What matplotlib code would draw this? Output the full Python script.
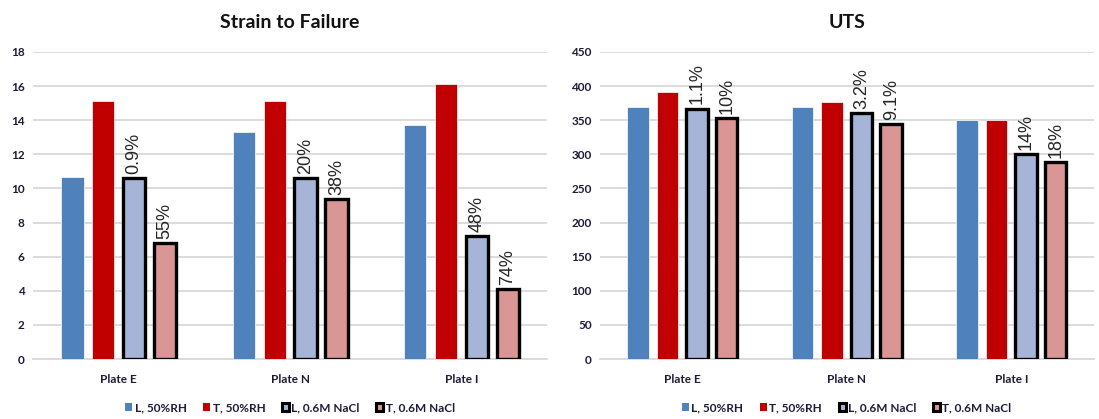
import numpy as np
import matplotlib
matplotlib.use('Agg')
import matplotlib.pyplot as plt
from matplotlib.patches import Patch

plates = ['Plate E', 'Plate N', 'Plate I']
series = ['L, 50%RH', 'T, 50%RH', 'L, 0.6M NaCl', 'T, 0.6M NaCl']

# Strain to failure (%)
strain_L_rh = [10.7, 13.3, 13.7]
strain_T_rh = [15.1, 15.1, 16.1]
strain_L_nacl = [10.6, 10.6, 7.2]
strain_T_nacl = [6.8, 9.4, 4.1]
strain_L_drop = ['0.9%', '20%', '48%']
strain_T_drop = ['55%', '38%', '74%']

# Ultimate tensile strength (MPa)
uts_L_rh = [370, 370, 350]
uts_T_rh = [392, 376, 350]
uts_L_nacl = [367, 361, 300]
uts_T_nacl = [353, 344, 289]
uts_L_drop = ['1.1%', '3.2%', '14%']
uts_T_drop = ['10%', '9.1%', '18%']

colors = ['#4F81BD', '#C00000', '#A6B5D7', '#DA9694']
tick_col = '#1c1c3a'

fig = plt.figure(figsize=(10.99, 4.19), dpi=100)
ax1 = fig.add_axes([0.030, 0.143, 0.468, 0.733])
ax2 = fig.add_axes([0.546, 0.143, 0.449, 0.733])


def draw(ax, vals, drops, ymax, ystep, title):
    x = np.arange(len(plates))
    w = 0.13
    step = 0.18
    offs = [-1.5 * step, -0.5 * step, 0.5 * step, 1.5 * step]
    for i, v in enumerate(vals):
        if i < 2:
            ax.bar(x + offs[i], v, w, color=colors[i], edgecolor='white',
                   linewidth=0.5, zorder=3)
        else:
            bars = ax.bar(x + offs[i], v, w, color=colors[i], edgecolor='black',
                          linewidth=2.4, zorder=3)
            for b, lab in zip(bars, drops[i - 2]):
                ax.annotate(lab, (b.get_x() + b.get_width() / 2, b.get_height()),
                            xytext=(0, 3), textcoords='offset points',
                            rotation=90, ha='center', va='bottom',
                            fontsize=13, color='#262626',
                            family='Liberation Sans', zorder=4)
    ax.set_xlim(-0.5, len(plates) - 0.5)
    ax.set_ylim(0, ymax)
    ax.set_yticks(np.arange(0, ymax + 1, ystep))
    ax.set_xticks(x)
    ax.set_xticklabels(plates)
    ax.grid(axis='y', color='#D9D9D9', linewidth=1.3, zorder=0)
    for s in ['top', 'right', 'left']:
        ax.spines[s].set_visible(False)
    ax.spines['bottom'].set_color('#D9D9D9')
    ax.spines['bottom'].set_linewidth(1.3)
    ax.tick_params(length=0, labelsize=8.5, labelcolor=tick_col, pad=6)
    for t in ax.get_xticklabels() + ax.get_yticklabels():
        t.set_fontweight('bold')
        t.set_family('Lato')
    ax.tick_params(axis='x', pad=11)
    ax.set_title(title, fontsize=14, fontweight='bold', family='Lato',
                 color='#111111', pad=17)
    handles = [Patch(facecolor=colors[0], edgecolor='none'),
               Patch(facecolor=colors[1], edgecolor='none'),
               Patch(facecolor=colors[2], edgecolor='black', linewidth=2.2),
               Patch(facecolor=colors[3], edgecolor='black', linewidth=2.2)]
    ax.legend(handles, series, loc='upper center', bbox_to_anchor=(0.5, -0.105),
              ncol=4, frameon=False, handlelength=0.6, handleheight=0.6,
              handletextpad=0.2, columnspacing=1.4,
              prop={'family': 'Lato', 'weight': 'bold', 'size': 8.5})
    for t in ax.get_legend().get_texts():
        t.set_color(tick_col)


draw(ax1, [strain_L_rh, strain_T_rh, strain_L_nacl, strain_T_nacl],
     [strain_L_drop, strain_T_drop], 18, 2, 'Strain to Failure')
draw(ax2, [uts_L_rh, uts_T_rh, uts_L_nacl, uts_T_nacl],
     [uts_L_drop, uts_T_drop], 450, 50, 'UTS')

fig.savefig('out.png', dpi=100)
